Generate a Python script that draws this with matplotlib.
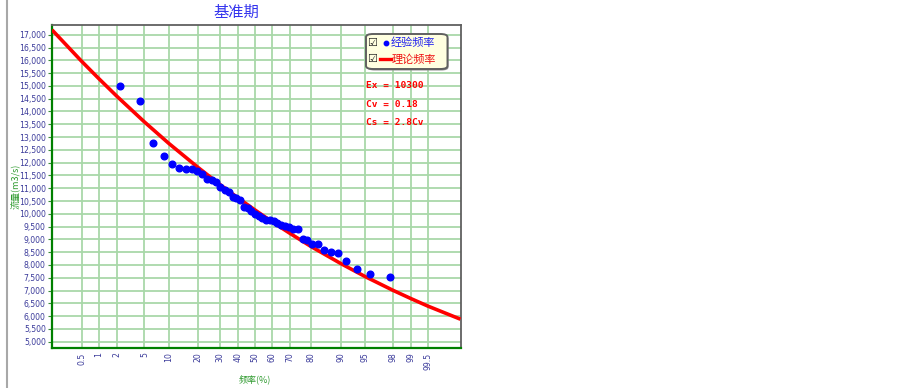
import matplotlib
matplotlib.use("Agg")
import matplotlib.pyplot as plt
from matplotlib.patches import FancyBboxPatch
from matplotlib.lines import Line2D
from statistics import NormalDist

plt.rcParams['font.family'] = ['Noto Sans CJK SC', 'DejaVu Sans']

# ---------------- data ----------------
title_text = "基准期"
x_label = "频率(%)"
y_label = "流量(m3/s)"
legend_labels = ["经验频率", "理论频率"]
stat_texts = ["Ex = 10300", "Cv = 0.18", "Cs = 2.8Cv"]

x_tick_probs = [0.5, 1, 2, 5, 10, 20, 30, 40, 50, 60, 70, 80, 90, 95, 98, 99, 99.5]
x_tick_labels = ["0.5", "1", "2", "5", "10", "20", "30", "40", "50", "60", "70",
                 "80", "90", "95", "98", "99", "99.5"]
y_ticks = list(range(5000, 17001, 500))

emp_freq = [2.2, 4.3, 6.5, 8.7, 10.9, 13.0, 15.2, 17.4, 19.6, 21.7, 23.9, 26.1,
            28.3, 30.4, 32.6, 34.8, 37.0, 39.1, 41.3, 43.5, 45.7, 47.8, 50.0,
            52.2, 54.3, 56.5, 58.7, 60.9, 63.0, 65.2, 67.4, 69.6, 71.7, 73.9,
            76.1, 78.3, 80.4, 82.6, 84.8, 87.0, 89.1, 91.3, 93.5, 95.7, 97.8]
emp_q = [15000, 14410, 12780, 12240, 11940, 11780, 11750, 11750, 11690, 11560,
         11370, 11330, 11250, 11050, 10940, 10860, 10660, 10620, 10540, 10270,
         10230, 10110, 10000, 9920, 9840, 9760, 9740, 9720, 9640, 9570, 9530,
         9470, 9410, 9390, 9020, 8960, 8820, 8800, 8590, 8500, 8460, 8170,
         7840, 7640, 7530]

theo_freq = [0.126, 0.5, 1, 2, 5, 10, 20, 30, 40, 50, 60, 70, 80, 90, 95, 98,
             99, 99.5, 99.889]
theo_q = [17190, 15950, 15290, 14590, 13590, 12750, 11800, 11150, 10620, 10150,
          9690, 9230, 8710, 8050, 7540, 7010, 6680, 6390, 5880]

# ---------------- helpers ----------------
nd = NormalDist()
def pz(p):
    return nd.inv_cdf(p / 100.0)

W, H = 903, 388
fig = plt.figure(figsize=(W / 100, H / 100), dpi=100)
fig.patch.set_facecolor("white")

L, R, T, B = 52, 460.7, 25, 348.3
ax = fig.add_axes([L / W, 1 - B / H, (R - L) / W, (B - T) / H])
ax.set_facecolor("white")

navy = "#3a3a9a"
green = "#2e9a2e"

# grid
for p in x_tick_probs:
    ax.axvline(pz(p), color="#a9d8a9", lw=1.3, zorder=0)
for y in y_ticks:
    ax.axhline(y, color="#a9d8a9", lw=1.3, zorder=0)

# theoretical curve
ax.plot([pz(p) for p in theo_freq], theo_q, color="#ff0000", lw=2.6, zorder=3,
        solid_capstyle="butt")
# empirical points
ax.plot([pz(p) for p in emp_freq], emp_q, "o", color="#0000ff", ms=4.8,
        mec="#0000ff", zorder=4)

ax.set_xlim(-3.021, 3.063)
ax.set_ylim(4742, 17380)

ax.set_xticks([pz(p) for p in x_tick_probs])
ax.set_xticklabels(x_tick_labels, rotation=90, color=navy, fontsize=5.6,
                   family="DejaVu Sans")
ax.tick_params(axis="x", length=0, pad=3)
ax.set_yticks(y_ticks)
ax.set_yticklabels([f"{v:,}" for v in y_ticks], color=navy, fontsize=5.6,
                   family="DejaVu Sans")
ax.tick_params(axis="y", length=3, width=0.8, color="#3a8a3a", pad=1.5)

for s in ["left", "bottom"]:
    ax.spines[s].set_color("#008000")
    ax.spines[s].set_linewidth(1.6)
for s in ["top", "right"]:
    ax.spines[s].set_color("#606060")
    ax.spines[s].set_linewidth(1.3)

# title and labels
fig.text(236 / W, 1 - 12 / H, title_text, ha="center", va="center",
         color="#3333ee", fontsize=11)
fig.text(255 / W, 1 - 379 / H, x_label, ha="center", va="center",
         color=green, fontsize=6.5)
fig.text(16 / W, 1 - 186 / H, y_label, ha="center", va="center",
         color=green, fontsize=6.5, rotation=90)

# left border line
fig.add_artist(Line2D([6.7 / W, 6.7 / W], [0, 1], color="#a8a8a8", lw=1.5))

# legend box
def fx(x):
    return x / W
def fy(y):
    return 1 - y / H

shadow = FancyBboxPatch((fx(367.5), fy(70.5)), fx(448.5) - fx(367.5), fy(35.5) - fy(70.5),
                        boxstyle="round,pad=0,rounding_size=0.008",
                        transform=fig.transFigure, fc="#909090", ec="none",
                        zorder=5)
box = FancyBboxPatch((fx(366), fy(69)), fx(447.5) - fx(366), fy(34) - fy(69),
                     boxstyle="round,pad=0,rounding_size=0.008",
                     transform=fig.transFigure, fc="#ffffe0", ec="#606060",
                     lw=1.4, zorder=6)
fig.add_artist(shadow)
fig.add_artist(box)

for yy in [42.7, 59.3]:
    fig.text(fx(372.5), fy(yy), "\u2611", ha="center", va="center",
             family="DejaVu Sans", fontsize=8, color="#202020", zorder=7)
fig.add_artist(Line2D([fx(385.7)], [fy(42.7)], marker="o", ms=3.2, color="#0000ff",
                      mec="#0000ff", zorder=7))
fig.add_artist(Line2D([fx(380), fx(391.5)], [fy(59.3), fy(59.3)], color="#ff0000",
                      lw=2.4, zorder=7))
fig.text(fx(391), fy(42.7), legend_labels[0], ha="left", va="center",
         color="#2222ee", fontsize=8, zorder=7)
fig.text(fx(392), fy(59.3), legend_labels[1], ha="left", va="center",
         color="#ee1111", fontsize=8, zorder=7)

for txt, yy in zip(stat_texts, [85, 104.3, 122.7]):
    fig.text(fx(366), fy(yy), txt, ha="left", va="center", color="#ff0000",
             family="DejaVu Sans Mono", fontweight="bold", fontsize=6.8)

fig.savefig("out.png", dpi=100, facecolor="white")
